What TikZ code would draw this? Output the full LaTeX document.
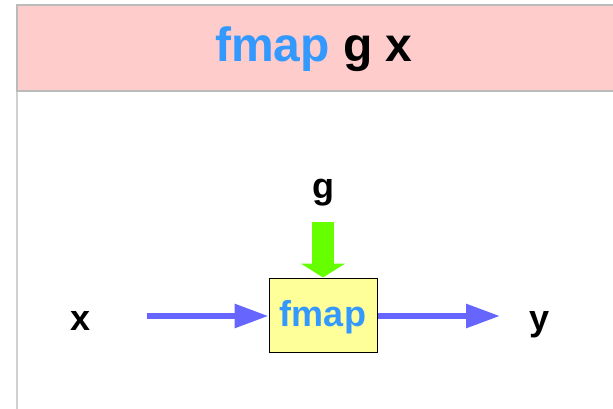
\documentclass[tikz,border=0pt]{standalone}
\usepackage{fontspec}
\setmainfont{Liberation Sans}
\usepackage{tikz}
\usetikzlibrary{arrows.meta}
\definecolor{bandpink}{HTML}{FFCCCC}
\definecolor{bandgray}{HTML}{BBBBBB}
\definecolor{framegray}{HTML}{D0D0D0}
\definecolor{fmapblue}{HTML}{3399FF}
\definecolor{flowblue}{HTML}{6666FF}
\definecolor{liftgreen}{HTML}{66FF00}
\definecolor{boxyellow}{HTML}{FFFF99}
\def\fmapbox{\node[draw=black,line width=1pt,fill=boxyellow,minimum width=108pt,minimum height=74pt,inner sep=0pt,text height=26pt,text depth=4pt,text=fmapblue]}
\def\labelnode{\node[anchor=base,font=\fontsize{36}{40}\selectfont\bfseries]}

\begin{document}
\begin{tikzpicture}[x=1pt,y=-1pt,
  flow/.style={draw=flowblue,line width=6pt,-{Triangle[width=23pt,length=34pt]}},
  lift/.style={draw=liftgreen,line width=22pt,-{Triangle[width=44pt,length=14pt]}}]
\useasboundingbox (0,0) rectangle (613,409);
\clip (0,0) rectangle (613,409);
% frame and title band
\draw[framegray,line width=1.5pt] (17,91) -- (17,420);
\draw[bandgray,line width=1.5pt,fill=bandpink] (17,5) rectangle (630,91);
\node (title) [anchor=base,font=\fontsize{48}{52}\selectfont\bfseries] at (314,62)
  {\textcolor{fmapblue}{fmap} g x};
% diagram
\fmapbox (fmap) at (323,315) {\fontsize{36}{40}\selectfont\bfseries fmap};
\labelnode (g) at (323,198) {g};
\labelnode (x) at (81,330) {x};
\labelnode (y) at (540,330) {y};
\coordinate (gin) at (323,222);
\coordinate (xin) at (147,316);
\coordinate (yout) at (500,316);
\draw[lift] (gin) -- (fmap.north);
\draw[flow] (xin) -- (xin -| fmap.west);
\draw[flow] (yout -| fmap.east) -- (yout);
\end{tikzpicture}
\end{document}
